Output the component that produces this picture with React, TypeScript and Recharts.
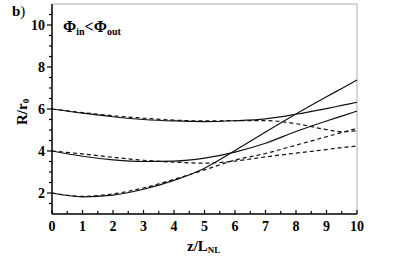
import React from 'react';
import { LineChart, Line, XAxis, YAxis, ReferenceLine, Label } from 'recharts';

// z / L_NL sample positions shared by all curves
const z = [0, 1, 2, 3, 4, 5, 6, 7, 8, 9, 9.5, 10];

// beam radius R/r0 (solid = one model, dashed = other)
const upperSolid = [6.0, 5.8, 5.63, 5.5, 5.43, 5.4, 5.44, 5.53, 5.75, 6.02, 6.17, 6.32];
const upperDashed = [6.0, 5.83, 5.68, 5.56, 5.47, 5.43, 5.45, 5.45, 5.3, 5.02, 4.92, 4.97];
const middleSolid = [4.0, 3.75, 3.58, 3.5, 3.52, 3.66, 3.95, 4.37, 4.93, 5.43, 5.66, 5.9];
const middleDashed = [4.0, 3.86, 3.7, 3.56, 3.47, 3.42, 3.52, 3.72, 3.9, 4.07, 4.16, 4.24];
const lowerSolid = [2.0, 1.82, 1.9, 2.18, 2.6, 3.18, 4.02, 4.9, 5.76, 6.58, 6.98, 7.38];
const lowerDashed = [2.0, 1.84, 1.96, 2.24, 2.65, 3.1, 3.57, 3.88, 4.28, 4.68, 4.88, 5.08];

const xTicks = [0, 0.5, 1, 1.5, 2, 2.5, 3, 3.5, 4, 4.5, 5, 5.5, 6, 6.5, 7, 7.5, 8, 8.5, 9, 9.5, 10];
const yTicks = [1, 1.5, 2, 2.5, 3, 3.5, 4, 4.5, 5, 5.5, 6, 6.5, 7, 7.5, 8, 8.5, 9, 9.5, 10, 10.5, 11];
const yLabels = [2, 4, 6, 8, 10];

const data = z.map((v, i) => ({
  z: v,
  us: upperSolid[i],
  ud: upperDashed[i],
  ms: middleSolid[i],
  md: middleDashed[i],
  ls: lowerSolid[i],
  ld: lowerDashed[i],
}));

const FONT = '"Liberation Serif", "Times New Roman", serif';

const XTick = (props: any) => {
  const { x, y, payload } = props;
  const major = Number.isInteger(payload.value);
  return (
    <g>
      <line x1={x} x2={x} y1={y} y2={y - (major ? 4 : 3)} stroke="#000" strokeWidth={1.2} />
      {major && (
        <text x={x} y={y + 17} textAnchor="middle" fontFamily={FONT} fontWeight="bold" fontSize={14} fill="#000">
          {payload.value}
        </text>
      )}
    </g>
  );
};

const YTick = (props: any) => {
  const { x, y, payload } = props;
  if (payload.value === 1 || payload.value === 11) return <g />;
  const labelled = yLabels.includes(payload.value);
  return (
    <g>
      <line x1={x} x2={x - (labelled ? 5 : 3)} y1={y} y2={y} stroke="#000" strokeWidth={1.2} />
      {labelled && (
        <text x={x - 7} y={y + 5} textAnchor="end" fontFamily={FONT} fontWeight="bold" fontSize={14} fill="#000">
          {payload.value}
        </text>
      )}
    </g>
  );
};

const series = [
  { key: 'us', dash: undefined },
  { key: 'ud', dash: '4 3' },
  { key: 'ms', dash: undefined },
  { key: 'md', dash: '4 3' },
  { key: 'ls', dash: undefined },
  { key: 'ld', dash: '4 3' },
];

export default function App() {
  return (
    <div style={{ position: 'absolute', left: 0, top: 0, width: 395, height: 264, background: '#fff' }}>
      <LineChart width={395} height={264} data={data} margin={{ top: 4, right: 38, bottom: 0, left: 0 }}>
        <XAxis
          dataKey="z"
          type="number"
          domain={[0, 10]}
          ticks={xTicks}
          interval={0}
          tickSize={0}
          tickMargin={0}
          tick={<XTick />}
          height={50}
          axisLine={{ stroke: '#000', strokeWidth: 1.5 }}
        >
          <Label
            content={() => (
              <text x={187} y={251} fontFamily={FONT} fontWeight="bold" fontSize={15} fill="#000">
                z/L<tspan fontSize={9} dy={2}>NL</tspan>
              </text>
            )}
          />
        </XAxis>
        <YAxis
          type="number"
          domain={[1, 11]}
          ticks={yTicks}
          interval={0}
          tickSize={0}
          tickMargin={0}
          tick={<YTick />}
          width={52}
          axisLine={{ stroke: '#000', strokeWidth: 1.5 }}
        >
          <Label
            content={() => (
              <text
                x={27}
                y={125}
                transform="rotate(-90 27 125)"
                fontFamily={FONT}
                fontWeight="bold"
                fontSize={15}
                fill="#000"
              >
                R/r<tspan fontSize={9} dy={2}>0</tspan>
              </text>
            )}
          />
        </YAxis>
        <ReferenceLine y={11} stroke="#aaa" strokeWidth={1} />
        <ReferenceLine x={10} stroke="#aaa" strokeWidth={1} />
        {series.map((s) => (
          <Line
            key={s.key}
            dataKey={s.key}
            type="monotone"
            stroke="#111"
            strokeWidth={1.2}
            strokeDasharray={s.dash}
            dot={false}
            activeDot={false}
            isAnimationActive={false}
          />
        ))}
      </LineChart>
      <svg width={395} height={264} style={{ position: 'absolute', left: 0, top: 0, pointerEvents: 'none' }}>
        <text x={12} y={16} fontFamily={FONT} fontWeight="bold" fontSize={15} fill="#000">
          b<tspan fontWeight="normal">)</tspan>
        </text>
        <text x={63} y={32} fontFamily={FONT} fontWeight="bold" fontSize={16} fill="#000">
          Φ<tspan fontSize={10} dy={3}>in</tspan>
          <tspan fontSize={16} dy={-3}>&lt;Φ</tspan>
          <tspan fontSize={10} dy={3}>out</tspan>
        </text>
      </svg>
    </div>
  );
}
